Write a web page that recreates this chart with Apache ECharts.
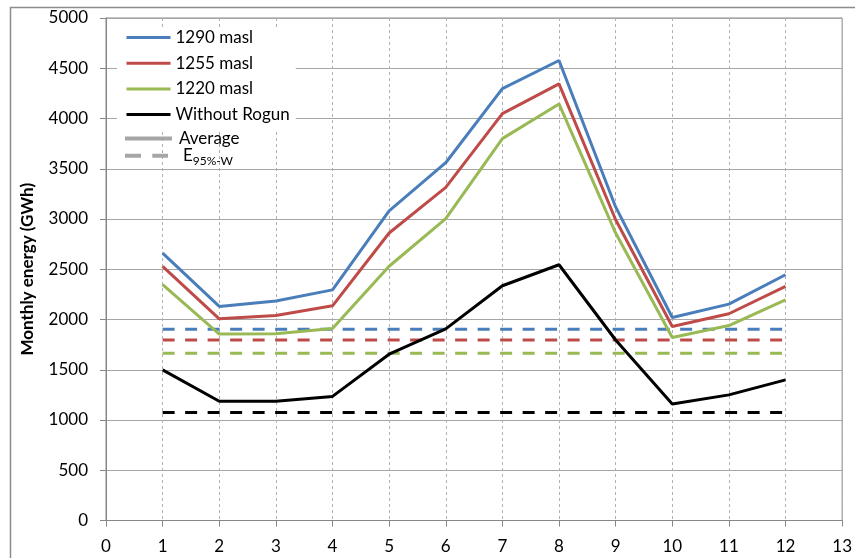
<!DOCTYPE html>
<html>
<head>
<meta charset="utf-8">
<script src="https://cdn.jsdelivr.net/npm/echarts@6/dist/echarts.min.js"></script>
<style>
html,body{margin:0;padding:0;background:#fff;}
#chart{width:855px;height:558px;}
</style>
</head>
<body>
<div id="chart"></div>
<script>
// ---- data ----
const months = [1, 2, 3, 4, 5, 6, 7, 8, 9, 10, 11, 12];
const seriesNames = ['1290 masl', '1255 masl', '1220 masl', 'Without Rogun'];
const energy1290 = [2660, 2130, 2185, 2295, 3080, 3560, 4298, 4577, 3120, 2020, 2153, 2445];
const energy1255 = [2528, 2007, 2040, 2136, 2861, 3315, 4049, 4345, 2993, 1930, 2057, 2329];
const energy1220 = [2346, 1855, 1858, 1911, 2530, 3003, 3800, 4145, 2860, 1821, 1940, 2196];
const energyWithoutRogun = [1499, 1187, 1187, 1235, 1655, 1907, 2336, 2545, 1796, 1160, 1250, 1399];
const e95Values = [1904, 1795, 1665, 1074];
const colors = ['#4A7EBB', '#BE4B48', '#98B954', '#000000'];
const legendExtra = ['Average', 'E95%-W'];

const FONT = 'Lato';
const allSeriesData = [energy1290, energy1255, energy1220, energyWithoutRogun];

const series = [];
allSeriesData.forEach((vals, i) => {
  series.push({
    name: seriesNames[i],
    type: 'line',
    symbol: 'none',
    data: months.map((m, j) => [m, vals[j]]),
    lineStyle: { color: colors[i], width: 3 },
    itemStyle: { color: colors[i] },
    z: 5 - i
  });
});
e95Values.forEach((v, i) => {
  series.push({
    name: seriesNames[i] + ' E95',
    type: 'line',
    symbol: 'none',
    data: months.map(m => [m, v]),
    lineStyle: { color: colors[i], width: 3, type: [12, 10.5], cap: 'butt' },
    itemStyle: { color: colors[i] },
    z: 1
  });
});
series.push({
  name: legendExtra[0], type: 'line', symbol: 'none', data: [],
  lineStyle: { color: '#A6A6A6', width: 4 }, itemStyle: { color: '#A6A6A6' }
});
series.push({
  name: legendExtra[1], type: 'line', symbol: 'none', data: [],
  lineStyle: { color: '#A6A6A6', width: 4, type: [16, 11.3] }, itemStyle: { color: '#A6A6A6' }
});

const hiddenSymbol = { color: 'rgba(0,0,0,0)', borderWidth: 0, opacity: 0 };

const chart = echarts.init(document.getElementById('chart'), null, { renderer: 'canvas' });
chart.setOption({
  animation: false,
  backgroundColor: '#fff',
  textStyle: { fontFamily: FONT },
  graphic: [{
    type: 'rect', left: 8, top: 5, z: -10, silent: true,
    shape: { width: 900, height: 600 },
    style: { fill: 'none', stroke: '#8C8C8C', lineWidth: 1.5 }
  }],
  grid: { left: 106, right: 9, top: 18, bottom: 37.5, show: true, borderColor: '#868686', borderWidth: 1 },
  xAxis: {
    type: 'value', min: 0, max: 13, interval: 1,
    axisLine: { show: true, lineStyle: { color: '#868686', width: 1 } },
    axisTick: { show: true, length: 6, lineStyle: { color: '#868686' } },
    axisLabel: { color: '#000', fontSize: 17, fontFamily: FONT, margin: 18 },
    splitLine: { show: true, lineStyle: { color: '#B0B0B0', type: [3, 3], width: 1 } }
  },
  yAxis: {
    type: 'value', min: 0, max: 5000, interval: 500,
    name: 'Monthly energy (GWh)', nameLocation: 'middle', nameRotate: 90, nameGap: 70,
    nameTextStyle: { color: '#000', fontSize: 17, fontWeight: 'bold', fontFamily: FONT },
    axisLine: { show: true, lineStyle: { color: '#868686', width: 1 } },
    axisTick: { show: true, length: 6, lineStyle: { color: '#868686' } },
    axisLabel: { color: '#000', fontSize: 17, fontFamily: FONT, margin: 18, formatter: v => String(v) },
    splitLine: { show: true, lineStyle: { color: '#A6A6A6', width: 1 } }
  },
  legend: [{
    data: seriesNames,
    orient: 'vertical', left: 117, top: 27,
    padding: [2, 6, 6, 8], itemGap: 8.7,
    itemWidth: 44, itemHeight: 17,
    backgroundColor: '#fff',
    selectedMode: false,
    itemStyle: hiddenSymbol,
    lineStyle: { width: 3 },
    textStyle: { color: '#000', fontSize: 17, fontFamily: FONT }
  }, {
    data: [legendExtra[0]],
    orient: 'vertical', left: 123, top: 130, padding: 0,
    itemWidth: 47, itemHeight: 17, selectedMode: false,
    itemStyle: hiddenSymbol,
    lineStyle: { width: 4 },
    formatter: n => '{a|' + n + '}',
    textStyle: { color: '#000', fontSize: 17, fontFamily: FONT, rich: { a: { fontSize: 17, padding: [0, 0, 0, 2] } } }
  }, {
    data: [legendExtra[1]],
    orient: 'vertical', left: 123, top: 147, padding: 0,
    itemWidth: 43, itemHeight: 22, selectedMode: false,
    itemStyle: hiddenSymbol,
    lineStyle: { width: 4 },
    formatter: n => '{b|E}{s|95%-W}',
    textStyle: {
      color: '#000', fontSize: 17, fontFamily: FONT,
      rich: {
        b: { fontSize: 17, lineHeight: 22, verticalAlign: 'middle', padding: [0, 0, 0, 10] },
        s: { fontSize: 12, lineHeight: 12, verticalAlign: 'bottom' }
      }
    }
  }],
  series: series
});
</script>
</body>
</html>
